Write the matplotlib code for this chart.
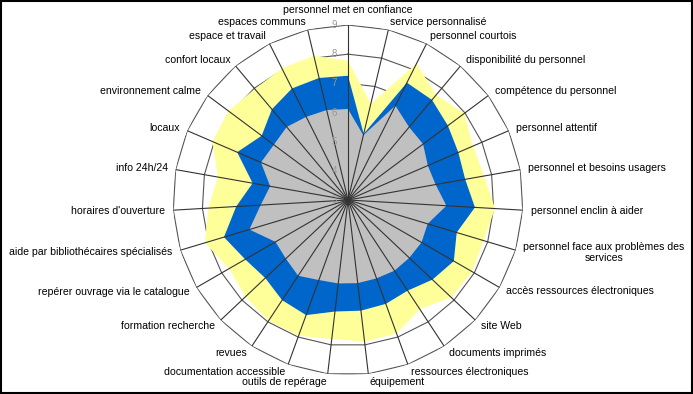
import numpy as np
import matplotlib
matplotlib.use("Agg")
import matplotlib.pyplot as plt
from matplotlib.patches import Rectangle

categories = [
    "personnel met en confiance", "service personnalisé", "personnel courtois",
    "disponibilité du personnel", "compétence du personnel", "personnel attentif",
    "personnel et besoins usagers", "personnel enclin à aider",
    "personnel face aux problèmes des\nservices", "accès ressources électroniques",
    "site Web", "documents imprimés", "ressources électroniques", "équipement",
    "outils de repérage", "documentation accessible", "revues", "formation recherche",
    "repérer ouvrage via le catalogue", "aide par bibliothécaires spécialisés",
    "horaires d'ouverture", "info 24h/24", "locaux", "environnement calme",
    "confort locaux", "espace et travail", "espaces communs",
]

yellow_vals = [7.78, 6.39, 8.24, 7.70, 7.97, 7.67, 7.74, 8.05, 7.85, 7.91, 7.87, 7.48, 7.87, 7.89,
               7.80, 7.95, 7.96, 7.83, 7.71, 8.12, 7.80, 7.53, 8.06, 8.11, 7.97, 8.05, 8.08]
blue_vals = [7.26, 5.33, 7.50, 7.48, 7.27, 7.12, 7.08, 7.36, 6.89, 7.19, 6.98, 6.72, 6.79, 6.82,
             6.85, 7.20, 7.11, 6.90, 7.07, 7.44, 6.84, 6.32, 7.14, 6.69, 7.06, 7.28, 7.30]
gray_vals = [6.12, 5.28, 6.62, 6.26, 6.21, 5.98, 6.05, 6.38, 5.85, 5.91, 5.89, 5.90, 5.86, 5.87,
             5.88, 5.92, 6.11, 5.93, 5.87, 6.53, 6.00, 5.71, 6.25, 6.17, 6.27, 6.19, 6.17]
ring_values = [3, 4, 5, 6, 7, 8, 9]
rmin, rmax = 3, 9

plt.rcParams['font.family'] = ['Liberation Sans', 'DejaVu Sans']

W, H = 693, 394
fig = plt.figure(figsize=(W / 100, H / 100), dpi=100)
cx, cy, R = 348, 200, 175
ax = fig.add_axes([(cx - R) / W, (H - cy - R) / H, 2 * R / W, 2 * R / H], projection='polar')
ax.set_theta_zero_location('N')
ax.set_theta_direction(-1)
ax.set_ylim(rmin, rmax)
ax.grid(False)
ax.set_xticks([])
ax.set_yticks([])
ax.spines['polar'].set_visible(False)
ax.patch.set_alpha(0)

n = len(categories)
theta = np.arange(n) * 2 * np.pi / n
tc = np.append(theta, theta[0])

def closed(v):
    return np.append(v, v[0])

grid_col = '#333333'
for rv in ring_values:
    ax.plot(tc, [rv] * (n + 1), color='#555555', lw=0.8, zorder=1)

ax.fill(tc, closed(yellow_vals), color='#FFFF99', lw=0, zorder=2)
ax.fill(tc, closed(blue_vals), color='#0066CC', lw=0, zorder=3)
ax.fill(tc, closed(gray_vals), color='#C0C0C0', lw=0, zorder=4)

for t in theta:
    ax.plot([t, t], [rmin, rmax], color=grid_col, lw=0.8, zorder=5)

# radial tick labels
for rv in ring_values:
    ax.annotate(str(rv), xy=(0, rv), xytext=(-10, 0), textcoords='offset points',
                ha='center', va='center', fontsize=7, color='#999999', zorder=6)

# category labels
r_lab = rmax + 8 / R * (rmax - rmin)
for t, lab in zip(theta, categories):
    s = np.sin(t)
    if abs(s) < 0.01:
        ax.text(t, rmax + 10 / R * (rmax - rmin), lab, ha='center', va='bottom', fontsize=7.6)
    else:
        ha = 'left' if s > 0 else 'right'
        ax.text(t, r_lab, lab, ha=ha, va='center', fontsize=7.6, multialignment='center')

fig.patches.append(Rectangle((1 / W, 1 / H), 1 - 2 / W, 1 - 2 / H, transform=fig.transFigure,
                             fill=False, ec='black', lw=1.5))

fig.savefig('out.png', dpi=100)
